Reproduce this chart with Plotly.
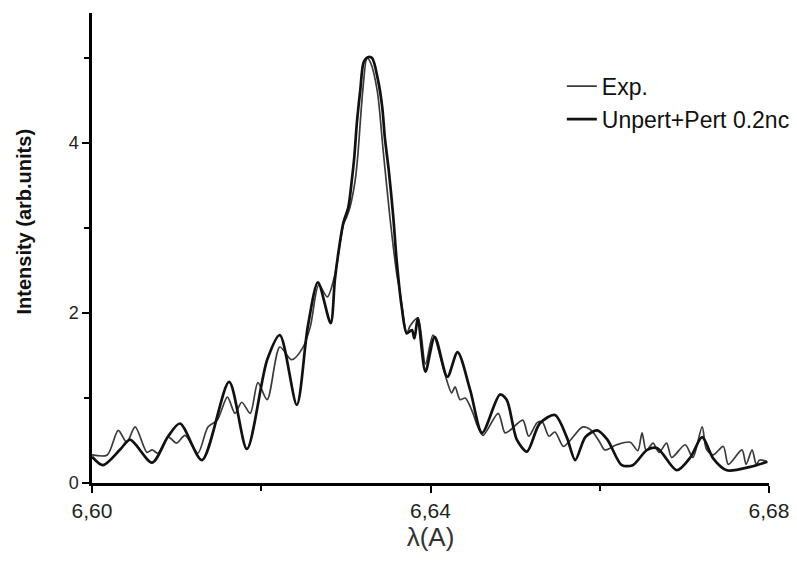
import plotly.graph_objects as go

# Experimental spectrum (thin line)
exp_x = [6.6000, 6.6018, 6.6031, 6.6041, 6.6051, 6.6065, 6.6071, 6.6078, 6.6090, 6.6100,
         6.6110, 6.6125, 6.6137, 6.6148, 6.6160, 6.6169, 6.6177, 6.6187, 6.6196, 6.6207,
         6.6222, 6.6236, 6.6249, 6.6258, 6.6268, 6.6278, 6.6287, 6.6297, 6.6301, 6.6305,
         6.6311, 6.6314, 6.6320, 6.6325, 6.6329, 6.6337, 6.6344, 6.6352, 6.6360, 6.6364,
         6.6372, 6.6376, 6.6385, 6.6394, 6.6403, 6.6417, 6.6425, 6.6429, 6.6435, 6.6441,
         6.6449, 6.6456, 6.6462, 6.6480, 6.6488, 6.6494, 6.6509, 6.6516, 6.6526, 6.6532,
         6.6540, 6.6547, 6.6557, 6.6565, 6.6580, 6.6590, 6.6600, 6.6606, 6.6620, 6.6636,
         6.6645, 6.6650, 6.6655, 6.6663, 6.6670, 6.6679, 6.6685, 6.6701, 6.6710, 6.6721,
         6.6726, 6.6734, 6.6746, 6.6752, 6.6768, 6.6773, 6.6780, 6.6785, 6.6789, 6.6798]
exp_y = [0.33, 0.33, 0.62, 0.48, 0.66, 0.36, 0.39, 0.35, 0.54, 0.47,
         0.56, 0.35, 0.66, 0.74, 1.01, 0.82, 0.95, 0.82, 1.18, 0.98,
         1.60, 1.45, 1.59, 1.84, 2.33, 2.19, 2.45, 3.04, 3.13, 3.25,
         3.56, 3.84, 4.62, 5.00, 4.95, 4.62, 3.92, 3.13, 2.47, 2.24,
         1.76, 1.85, 1.94, 1.40, 1.74, 1.28, 1.06, 1.13, 0.98, 1.00,
         0.85, 0.66, 0.56, 0.82, 0.59, 0.62, 0.74, 0.55, 0.71, 0.72,
         0.55, 0.60, 0.43, 0.50, 0.66, 0.62, 0.48, 0.39, 0.45, 0.48,
         0.38, 0.59, 0.38, 0.47, 0.36, 0.47, 0.30, 0.45, 0.30, 0.66,
         0.40, 0.33, 0.43, 0.22, 0.39, 0.22, 0.39, 0.22, 0.27, 0.25]

# Model spectrum Unpert+Pert 0.2nc (thick line)
mod_x = [6.6000, 6.6013, 6.6033, 6.6045, 6.6071, 6.6090, 6.6104, 6.6130, 6.6162, 6.6183,
         6.6207, 6.6222, 6.6242, 6.6255, 6.6267, 6.6282, 6.6287, 6.6291, 6.6297, 6.6303,
         6.6307, 6.6310, 6.6313, 6.6317, 6.6321, 6.6326, 6.6331, 6.6338, 6.6343, 6.6346,
         6.6351, 6.6356, 6.6360, 6.6366, 6.6372, 6.6378, 6.6381, 6.6385, 6.6394, 6.6405,
         6.6420, 6.6432, 6.6447, 6.6461, 6.6482, 6.6490, 6.6502, 6.6514, 6.6529, 6.6547,
         6.6561, 6.6571, 6.6583, 6.6597, 6.6609, 6.6626, 6.6639, 6.6656, 6.6668, 6.6691,
         6.6707, 6.6721, 6.6734, 6.6750, 6.6778, 6.6798]
mod_y = [0.31, 0.21, 0.39, 0.51, 0.24, 0.55, 0.70, 0.27, 1.19, 0.40,
         1.45, 1.74, 0.92, 1.84, 2.36, 1.88, 2.39, 2.70, 3.06, 3.25,
         3.56, 3.84, 4.24, 4.62, 4.95, 5.01, 5.00, 4.74, 4.42, 4.07,
         3.65, 3.13, 2.62, 2.07, 1.76, 1.80, 1.70, 1.94, 1.31, 1.72,
         1.25, 1.54, 1.09, 0.59, 1.04, 0.98, 0.51, 0.37, 0.70, 0.80,
         0.54, 0.27, 0.54, 0.62, 0.51, 0.21, 0.21, 0.39, 0.41, 0.15,
         0.30, 0.54, 0.29, 0.15, 0.19, 0.25]

x_tickvals = [6.60, 6.64, 6.68]
x_ticktext = ["6,60", "6,64", "6,68"]
y_tickvals = [0, 2, 4]
y_ticktext = ["0", "2", "4"]

fig = go.Figure()
fig.add_trace(go.Scatter(x=exp_x, y=exp_y, mode="lines", name="Exp.",
                         line=dict(color="#3a3a3a", width=1.7, shape="spline", smoothing=0.8)))
fig.add_trace(go.Scatter(x=mod_x, y=mod_y, mode="lines", name="Unpert+Pert 0.2nc",
                         line=dict(color="#111111", width=2.7, shape="spline", smoothing=0.8)))

fig.update_layout(
    width=797, height=563,
    margin=dict(l=92, r=28, t=13, b=80, autoexpand=False),
    paper_bgcolor="white", plot_bgcolor="white",
    font=dict(family="Liberation Sans, Arial, sans-serif", color="#222222", size=17),
    showlegend=True,
    legend=dict(x=0.694, y=0.89, xanchor="left", yanchor="top",
                bgcolor="rgba(0,0,0,0)", font=dict(size=23, color="#111111"),
                tracegroupgap=0),
    xaxis=dict(range=[6.60, 6.68], showgrid=False, zeroline=False,
               showline=True, linecolor="black", linewidth=2.5,
               ticks="outside", ticklen=7, tickwidth=2, tickcolor="black",
               tickvals=x_tickvals, ticktext=x_ticktext,
               tickfont=dict(size=21, color="#222222"),
               minor=dict(tickvals=[6.62, 6.66], ticks="outside", ticklen=5, tickwidth=2, tickcolor="black"),
               title=dict(text="λ(A)", font=dict(size=26, color="#333333"), standoff=6)),
    yaxis=dict(range=[0, 5.53], showgrid=False, zeroline=False,
               showline=True, linecolor="black", linewidth=2.5,
               ticks="outside", ticklen=7, tickwidth=2, tickcolor="black",
               tickvals=y_tickvals, ticktext=y_ticktext,
               tickfont=dict(size=18, color="#222222"),
               minor=dict(tickvals=[1, 3, 5], ticks="outside", ticklen=5, tickwidth=2, tickcolor="black")),
    annotations=[dict(text="<b>Intensity (arb.units)</b>", xref="paper", yref="paper",
                      x=-0.1, y=0.557, xanchor="center", yanchor="middle", textangle=-90,
                      showarrow=False, font=dict(size=20, color="#111111"))],
)

fig.write_html("out.html")
